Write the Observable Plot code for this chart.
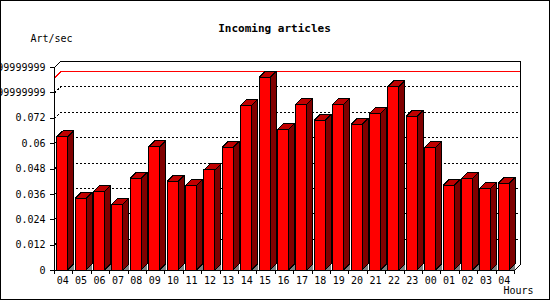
<!DOCTYPE html>
<html>
<head>
<meta charset="utf-8">
<script src="https://cdn.jsdelivr.net/npm/d3@7"></script>
<script src="https://cdn.jsdelivr.net/npm/@observablehq/plot@0.6"></script>
<style>
  html, body { margin: 0; padding: 0; background: white; }
  #wrap { position: relative; width: 550px; height: 300px; overflow: hidden; }
  #border { position: absolute; left: 0; top: 0; width: 550px; height: 300px; box-sizing: border-box; border: 1px solid black; pointer-events: none; }
  #wrap svg path, #wrap svg rect, #wrap svg line { shape-rendering: crispEdges; }
</style>
</head>
<body>
<div id="wrap"><div id="border"></div></div>
<script>
// ---- data ----
const hours = ["04","05","06","07","08","09","10","11","12","13","14","15","16","17","18","19","20","21","22","23","00","01","02","03","04"];
const rate = [0.0629,0.0339,0.0372,0.0312,0.0434,0.0583,0.0418,0.0400,0.0473,0.0580,0.0779,0.0911,0.0665,0.0784,0.0708,0.0784,0.0689,0.0741,0.0868,0.0727,0.0580,0.0400,0.0434,0.0386,0.0410];
const yTicks = [0,0.012,0.024,0.036,0.048,0.06,0.072,0.084,0.096];
const yLabels = ["0","0.012","0.024","0.036","0.048","0.06","0.072","0.08399999999","0.09599999999"];
const title = "Incoming articles";
const yTitle = "Art/sec";
const xTitle = "Hours";

// ---- layout ----
const W = 550, H = 300;
const mL = 54, mR = 36, mT = 67, mB = 30;
const n = hours.length;
const yMaxDomain = yTicks[yTicks.length - 1];
const depth = 6; // px of 3D depth
const slotPx = (W - mL - mR) / n;
const yPx = (H - mT - mB) / yMaxDomain;
const dX = depth / slotPx, dY = depth / yPx;
const fl = 2.7 / slotPx, fr = 13.7 / slotPx; // front face inside a slot

const labelOf = new Map(yTicks.map((t, i) => [t, yLabels[i]]));
const bars = rate.map((v, i) => ({i, v, xl: i + fl, xr: i + fr}));
const side = bars.flatMap(b => [
  {i: b.i, x: b.xr, y1: 0, y2: b.v},
  {i: b.i, x: b.xr + dX, y1: dY, y2: b.v + dY}
]);
const topFace = bars.flatMap(b => [
  {i: b.i, y: b.v, x1: b.xl, x2: b.xr},
  {i: b.i, y: b.v + dY, x1: b.xl + dX, x2: b.xr + dX}
]);
const floorTri = bars.flatMap(b => [
  {i: b.i, x: b.xr, y1: 0, y2: 0},
  {i: b.i, x: b.xr + dX, y1: 0, y2: dY}
]);
const vMax = d3.max(rate);
const frame = [[0,0],[0,yMaxDomain],[dX,yMaxDomain+dY],[n+dX,yMaxDomain+dY],[n+dX,dY],[n,0],[0,0]];
const maxLine = [[0,vMax],[dX,vMax+dY],[n+dX,vMax+dY]];
const gridTicks = yTicks.slice(1, -1);

const chart = Plot.plot({
  width: W, height: H,
  marginLeft: mL, marginRight: mR, marginTop: mT, marginBottom: mB,
  style: {fontFamily: "'DejaVu Sans Mono', monospace", fontSize: "10px", background: "white", color: "black"},
  x: {domain: [0, n], axis: null},
  y: {domain: [0, yMaxDomain], axis: null},
  marks: [
    Plot.ruleY(gridTicks, {y: d => d + dY, x1: dX, x2: n + dX, stroke: "black", strokeDasharray: "2,2"}),
    Plot.link(gridTicks, {x1: 0, y1: d => d, x2: dX, y2: d => d + dY, stroke: "black", strokeDasharray: "2,2"}),
    Plot.line(maxLine, {stroke: "#ff0000", strokeWidth: 1}),
    Plot.line(frame, {stroke: "black", strokeWidth: 1}),
    Plot.axisY({ticks: yTicks, tickSize: 4, tickPadding: 5, tickFormat: d => labelOf.get(d), label: null, fontSize: 10}),
    Plot.axisX({ticks: d3.range(n + 1), tickSize: 4, tickFormat: () => "", label: null}),
    Plot.text(hours, {x: (d, i) => i + (fl + fr) / 2, y: 0, dy: 10, fontSize: 10}),
    Plot.area(floorTri, {x1: "x", y1: "y1", y2: "y2", z: "i", fill: "#808080"}),
    Plot.area(side, {x1: "x", y1: "y1", y2: "y2", z: "i", fill: "#800000", stroke: "black"}),
    Plot.area(topFace, {x1: "x1", x2: "x2", y1: "y", z: "i", fill: "#c00000", stroke: "black"}),
    Plot.rect(bars, {x1: "xl", x2: "xr", y1: 0, y2: "v", fill: "#ff0000", stroke: "black"}),
    Plot.text([title], {frameAnchor: "top", dx: -10, dy: -43, fontWeight: "bold", fontSize: 11, style: "letter-spacing:0.3px"}),
    Plot.text([yTitle], {frameAnchor: "top-left", textAnchor: "start", dx: -24, dy: -32.5, fontSize: 10}),
    Plot.text([xTitle], {frameAnchor: "bottom-right", textAnchor: "end", dx: 19, dy: 23, fontSize: 10})
  ]
});
document.getElementById("wrap").insertBefore(chart, document.getElementById("border"));
</script>
</body>
</html>
